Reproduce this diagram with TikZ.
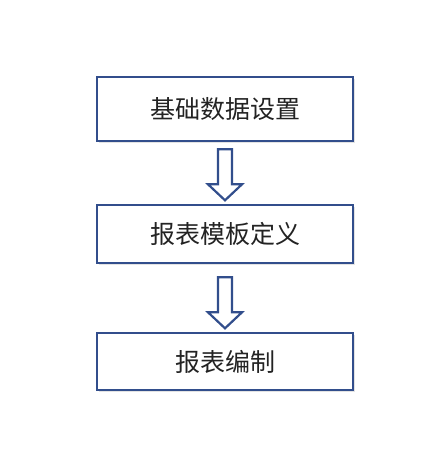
\documentclass[tikz,border=0pt]{standalone}
\usepackage{fontspec}
\usepackage{tikz}
\usetikzlibrary{shadows,calc}
\newfontfamily\cjk{Noto Sans CJK SC}
\definecolor{boxblue}{RGB}{50,78,140}
\definecolor{textgray}{RGB}{35,35,35}

\begin{document}
\begin{tikzpicture}[x=1pt,y=-1pt,
  stepbox/.style={rectangle, draw=boxblue, line width=2.6pt, fill=white,
    minimum width=256pt, text=textgray, font=\cjk\fontsize{25}{29}\selectfont,
    drop shadow={opacity=0.22, shadow xshift=1.5pt, shadow yshift=-1.5pt}},
  downarrow/.style={draw=boxblue, line width=2.2pt, fill=white, line join=miter}]
\useasboundingbox (0,0) rectangle (443,460);
% three steps, top to bottom
\node[stepbox, minimum height=64pt] (base) at (225,109) {基础数据设置};
\node[stepbox, minimum height=58pt] (template) at (225,234) {报表模板定义};
\node[stepbox, minimum height=57pt] (compile) at (225,361.5) {报表编制};

% hollow arrows between the steps
\coordinate (topA) at ($(base.south)+(0,7)$);
\coordinate (topB) at ($(template.south)+(0,13)$);
\foreach \t in {topA,topB}
  \draw[downarrow] ($(\t)+(-7,0)$) -- ++(14,0) -- ++(0,35) -- ++(10,0)
    -- ++(-17,16) -- ++(-17,-16) -- ++(10,0) -- cycle;
\end{tikzpicture}
\end{document}
